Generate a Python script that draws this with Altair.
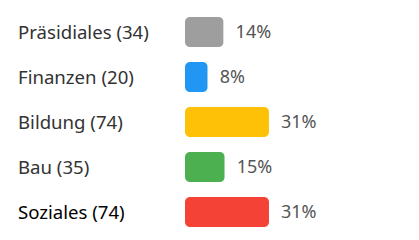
import altair as alt
import pandas as pd

categories = ["Präsidiales", "Finanzen", "Bildung", "Bau", "Soziales"]
counts = [34, 20, 74, 35, 74]
colors = ["#9E9E9E", "#2196F3", "#FFC107", "#4CAF50", "#F44336"]
label_colors = ["#333333", "#333333", "#333333", "#333333", "#000000"]

total = sum(counts)
df = pd.DataFrame({
    "cat": categories,
    "count": counts,
    "share": [c / total for c in counts],
    "label": [f"{c} ({n})" for c, n in zip(categories, counts)],
    "pct": [f"{round(100 * n / total)}%" for n in counts],
    "color": colors,
    "lcolor": label_colors,
})

y = alt.Y("cat:N", sort=categories, axis=None,
          scale=alt.Scale(paddingInner=1/3, paddingOuter=1/6))
x = alt.X("share:Q", axis=None, scale=alt.Scale(domain=[0, 1], range=[0, 269]))

base = alt.Chart(df)

bars = base.mark_bar(cornerRadius=5).encode(
    x=x, y=y, color=alt.Color("color:N", scale=None)
)

pct = base.mark_text(align="left", baseline="middle", dx=12, dy=1, fontSize=18,
                     font="Noto Sans", color="#555555").encode(
    x=x, y=y, text="pct:N"
)

labels = base.mark_text(align="left", baseline="middle", dy=1, fontSize=18.6,
                        font="Noto Sans").encode(
    x=alt.value(-167), y=y, text="label:N", color=alt.Color("lcolor:N", scale=None)
)

chart = (bars + pct + labels).properties(
    width=230, height=225,
    padding={"left": 185, "top": 9.5, "right": 0, "bottom": 0},
    autosize=alt.AutoSizeParams(type="none"),
).configure_view(stroke=None)

chart.save("out.html", embed_options={"renderer": "svg", "actions": False})
